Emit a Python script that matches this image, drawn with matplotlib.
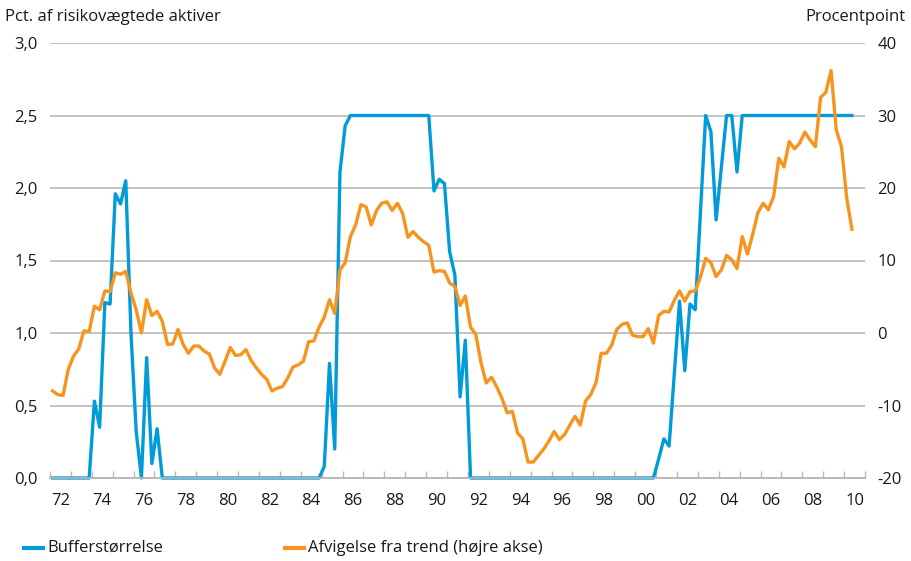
import numpy as np
import matplotlib
matplotlib.use("Agg")
import matplotlib.pyplot as plt
from matplotlib.lines import Line2D

plt.rcParams['font.family'] = ['Open Sans', 'DejaVu Sans']

# Quarterly data, 1972Q1 .. 2010Q2
start_year = 1972
buffer_size = [
    0, 0, 0, 0, 0, 0, 0, 0,
    0.53, 0.35, 1.21, 1.20, 1.96, 1.89, 2.05, 1.0, 0.32, 0, 0.83, 0.10, 0.34,
    0, 0, 0, 0, 0, 0, 0, 0, 0, 0, 0, 0, 0, 0, 0, 0, 0, 0, 0, 0, 0, 0, 0, 0, 0, 0, 0, 0, 0, 0, 0,
    0.08, 0.79, 0.20, 2.11, 2.43,
    2.5, 2.5, 2.5, 2.5, 2.5, 2.5, 2.5, 2.5, 2.5, 2.5, 2.5, 2.5, 2.5, 2.5, 2.5, 2.5,
    1.98, 2.06, 2.03, 1.56, 1.40, 0.56, 0.95,
    0, 0, 0, 0, 0, 0, 0, 0, 0, 0, 0, 0, 0, 0, 0, 0, 0, 0, 0, 0, 0, 0, 0, 0, 0, 0, 0, 0, 0, 0, 0, 0, 0, 0, 0, 0,
    0.13, 0.27, 0.22, 0.72, 1.22, 0.74, 1.20, 1.16, 1.83, 2.5, 2.39, 1.78, 2.14, 2.5, 2.5, 2.11,
    2.5, 2.5, 2.5, 2.5, 2.5, 2.5, 2.5, 2.5, 2.5, 2.5, 2.5, 2.5, 2.5, 2.5, 2.5, 2.5, 2.5, 2.5, 2.5, 2.5, 2.5, 2.5,
]
trend_gap = [
    -8.0, -8.5, -8.6, -5.0, -3.2, -2.2, 0.3, 0.2, 3.7, 3.2, 5.8, 5.7, 8.3, 8.1, 8.5, 5.5,
    3.2, 0.0, 4.6, 2.4, 3.0, 1.6, -1.6, -1.5, 0.5, -1.6, -2.8, -1.8, -1.8, -2.5, -2.9, -4.8,
    -5.7, -3.9, -2.0, -3.1, -3.0, -2.3, -3.8, -4.8, -5.7, -6.4, -8.0, -7.6, -7.4, -6.2, -4.7, -4.4,
    -3.9, -1.2, -1.1, 0.8, 2.2, 4.6, 2.7, 8.7, 9.7, 13.3, 14.9, 17.7, 17.4, 14.9, 16.9, 17.9,
    18.1, 16.9, 17.9, 16.5, 13.2, 14.0, 13.2, 12.6, 12.1, 8.4, 8.6, 8.5, 6.9, 6.4, 3.8, 5.1,
    0.8, -0.2, -4.1, -6.9, -6.1, -7.4, -9.0, -11.0, -10.8, -13.8, -14.6, -17.8, -17.8, -16.9, -16.0, -14.9,
    -13.6, -14.7, -14.0, -12.7, -11.5, -12.7, -9.4, -8.5, -6.9, -2.8, -2.8, -1.7, 0.5, 1.2, 1.4, -0.3,
    -0.5, -0.5, 0.6, -1.4, 2.4, 3.0, 2.9, 4.5, 5.8, 4.4, 5.7, 5.8, 7.7, 10.3, 9.7, 7.8,
    8.7, 10.7, 10.1, 8.9, 13.3, 10.9, 13.6, 16.6, 17.9, 17.0, 18.8, 24.1, 22.9, 26.4, 25.4, 26.2,
    27.7, 26.6, 25.7, 32.5, 33.2, 36.2, 28.0, 25.7, 18.6, 14.3,
]
year_labels = ['72', '74', '76', '78', '80', '82', '84', '86', '88', '90',
               '92', '94', '96', '98', '00', '02', '04', '06', '08', '10']
left_ticks = [0.0, 0.5, 1.0, 1.5, 2.0, 2.5, 3.0]
right_ticks = [-20, -10, 0, 10, 20, 30, 40]
series_names = ['Bufferstørrelse', 'Afvigelse fra trend (højre akse)']

BLUE = '#009bd8'
ORANGE = '#f7941d'
GRID = '#b9b9b9'
TXT = '#1a1a1a'
FS = 12

n = len(trend_gap)
x = start_year + (np.arange(n) + 0.5) / 4.0

W, H = 912, 561
fig = plt.figure(figsize=(W / 100, H / 100), dpi=100)
ax = fig.add_axes([50 / W, 1 - 478 / H, 815 / W, 435 / H])
ax2 = ax.twinx()

ax.set_xlim(1972, 2011)
ax.set_ylim(0, 3)
ax2.set_ylim(-20, 40)

ax.set_yticks(left_ticks)
ax.set_yticklabels([f"{v:.1f}".replace('.', ',') for v in left_ticks])
ax2.set_yticks(right_ticks)
ax2.set_yticklabels([str(v) for v in right_ticks])

for a in (ax, ax2):
    for s in ('left', 'right', 'top'):
        a.spines[s].set_visible(False)
    a.spines['bottom'].set_color(GRID)
    a.spines['bottom'].set_linewidth(1.2)

ax.yaxis.grid(True, color=GRID, linewidth=1.2)
ax.set_axisbelow(True)
ax.tick_params(axis='y', length=0, labelsize=FS, pad=9, colors=TXT)
ax2.tick_params(axis='y', length=0, labelsize=FS, pad=9, colors=TXT)

# x axis: tick marks at every year, labels centred in every other year
ax.set_xticks(np.arange(1972, 2012))
ax.set_xticklabels([])
ax.tick_params(axis='x', which='major', direction='in', length=5, color=GRID, width=1.0)
ax.set_xticks(np.arange(1972, 2011, 2) + 0.5, minor=True)
ax.set_xticklabels(year_labels, minor=True)
ax.tick_params(axis='x', which='minor', length=0, labelsize=FS, pad=11, colors=TXT)

ax.plot(x, buffer_size, color=BLUE, linewidth=2.4, solid_joinstyle='round', clip_on=False, zorder=3)
ax2.plot(x, trend_gap, color=ORANGE, linewidth=2.4, solid_joinstyle='round', zorder=3)

fig.text(5 / W, 1 - 17 / H, 'Pct. af risikovægtede aktiver', fontsize=FS,
         ha='left', va='center', color=TXT)
fig.text(906 / W, 1 - 17 / H, 'Procentpoint', fontsize=FS,
         ha='right', va='center', color=TXT)

# legend, placed manually
ly = 1 - 548 / H
for (x0, x1, tx), col, name in zip([(22, 45, 47), (283, 306, 308)], [BLUE, ORANGE], series_names):
    fig.add_artist(Line2D([x0 / W, x1 / W], [ly, ly], color=col, linewidth=3,
                          solid_capstyle='butt', transform=fig.transFigure))
    fig.text(tx / W, ly, name, fontsize=FS, ha='left', va='center', color=TXT)

fig.savefig('out.png', dpi=100)
